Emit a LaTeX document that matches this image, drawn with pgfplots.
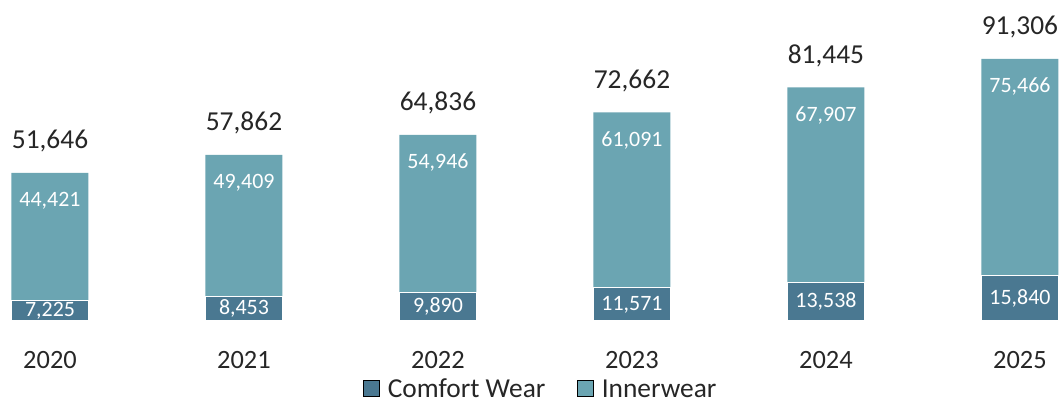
\documentclass[border=0pt]{standalone}
\usepackage{pgfplots}
\usepackage{pgfplotstable}
\pgfplotsset{compat=1.18}
\usepackage{fontspec}
\setmainfont{Carlito}

\definecolor{comfort}{HTML}{4A7891}
\definecolor{inner}{HTML}{6BA5B2}
\definecolor{txt}{HTML}{262626}

\pgfplotsset{/pgf/number format/.cd, fixed, precision=0, 1000 sep={,}, assume math mode=true}

% sales by year: comfort wear, innerwear, total
\pgfplotstableread{
x comfort inner total
0 7225  44421 51646
1 8453  49409 57862
2 9890  54946 64836
3 11571 61091 72662
4 13538 67907 81445
5 15840 75466 91306
}\sales

\begin{document}
\begin{tikzpicture}
\useasboundingbox (0,0) rectangle (1064bp,405bp);
\begin{axis}[
    at={(11.2bp,84bp)}, anchor=south west,
    scale only axis, width=1047.6bp, height=287bp,
    xmin=-0.2, xmax=5.2, ymin=0, ymax=100000,
    clip=false,
    axis line style={draw=none},
    major tick length=0pt,
    ytick=\empty,
    xtick={0,...,5},
    xticklabels={2020,2021,2022,2023,2024,2025},
    xticklabel style={font=\fontsize{26.5}{26.5}\selectfont, text=txt, anchor=base, inner sep=0pt, yshift=-47bp},
    legend style={at={(0.5057,-0.238)}, anchor=center, draw=none, fill=none,
        legend columns=2, font=\fontsize{27.5}{27.5}\selectfont, text=txt,
        /tikz/every odd column/.append style={column sep=6bp},
        /tikz/every even column/.append style={column sep=30bp}},
    legend image code/.code={\fill[#1] (0bp,-6.5bp) rectangle (16bp,9.5bp);},
]
\addlegendimage{fill=comfort}
\addlegendentry{Comfort Wear}
\addlegendimage{fill=inner}
\addlegendentry{Innerwear}

% full bar in innerwear colour, comfort wear drawn over it
\addplot[ybar, bar width=77bp, bar shift=0pt, fill=inner, draw=none, forget plot]
    table[x=x, y=total] {\sales};
\addplot[ybar, bar width=77bp, bar shift=0pt, fill=comfort, draw=white, line width=1.2bp, forget plot]
    table[x=x, y=comfort] {\sales};

% labels
\addplot[draw=none, forget plot, nodes near coords, point meta=explicit,
    every node near coord/.append style={font=\fontsize{22}{22}\selectfont, text=white, anchor=center, inner sep=0pt}]
    table[x=x, y expr=\thisrow{comfort}/2, meta=comfort] {\sales};
\addplot[draw=none, forget plot, nodes near coords, point meta=explicit,
    every node near coord/.append style={font=\fontsize{22}{22}\selectfont, text=white, anchor=center, inner sep=0pt, yshift=-28bp}]
    table[x=x, y=total, meta=inner] {\sales};
\addplot[draw=none, forget plot, nodes near coords, point meta=explicit,
    every node near coord/.append style={font=\fontsize{27.5}{27.5}\selectfont, text=txt, anchor=base, inner sep=0pt, yshift=24bp}]
    table[x=x, y=total, meta=total] {\sales};
\end{axis}
\end{tikzpicture}
\end{document}
